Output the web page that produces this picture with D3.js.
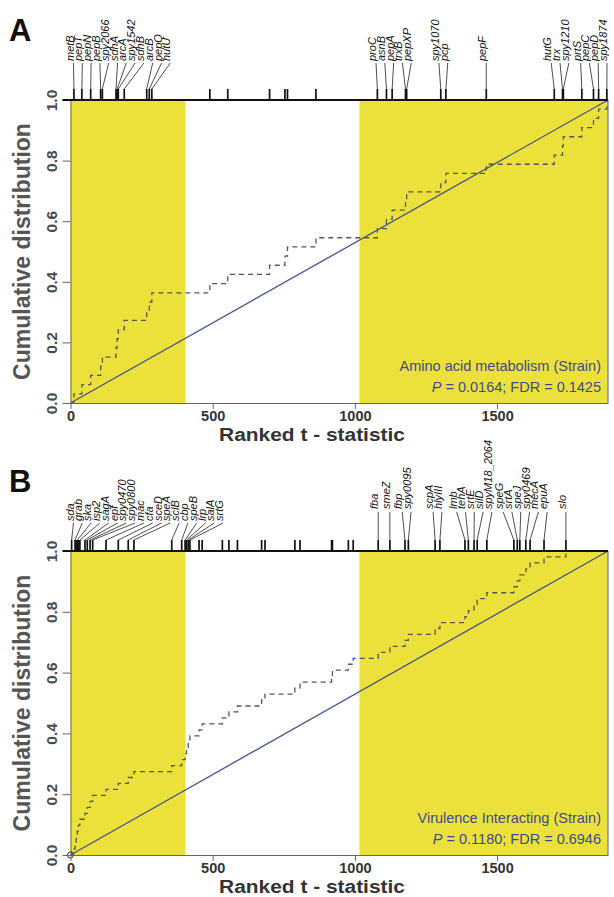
<!DOCTYPE html>
<html>
<head>
<meta charset="utf-8">
<script src="https://cdn.jsdelivr.net/npm/d3@7"></script>
<style>
  body { margin: 0; background: #fff; }
  svg text { font-family: "Liberation Sans", Arial, sans-serif; }
</style>
</head>
<body>
<div id="chart"></div>
<script>
// ---- data ----
var nGenes = 1890;
var xTickVals = [0, 500, 1000, 1500];
var yTickVals = [0, 0.2, 0.4, 0.6, 0.8, 1.0];
var yellowBands = [[0, 404], [1016, 1890]];

// panel A: Amino acid metabolism ("" = unlabelled gene)
var namesA = ["metB", "pepT", "pepN", "pepB", "spy2066", "sdhA", "arcA", "spy1542", "sdhB", "arcB", "pepQ", "hutU",
  "", "", "", "", "", "",
  "proC", "asnB", "pepA", "trxB", "pepXP", "spy1070", "pcp", "pepF", "hutG", "trx", "spy1210", "prtS", "pepC", "pepD", "spy1874"];
var ranksA = [12, 40, 71, 106, 112, 160, 164, 168, 189, 268, 277, 286,
  490, 553, 700, 754, 763, 863,
  1079, 1111, 1131, 1178, 1182, 1302, 1320, 1462, 1701, 1730, 1733, 1798, 1839, 1857, 1886];

// panel B: Virulence interacting
var namesB = ["sda", "grab", "", "ska", "", "isp2", "sagA", "epf", "spy0470", "spy0800", "mac", "cfa", "sceD", "speA",
  "sclB", "cbp", "speB", "lrp", "salA", "srtG",
  "", "", "", "", "", "", "", "", "", "", "", "", "",
  "fba", "smeZ", "fbp", "spy0095", "scpA", "hlyIII", "lmb", "tehA", "srtE", "silD", "spyM18_2064",
  "speG", "srtA", "speJ", "spy0469", "mecA", "epuA", "slo"];
var ranksB = [4, 16, 20, 24, 28, 33, 51, 59, 69, 78, 125, 168, 203, 223,
  356, 391, 403, 408, 414, 420,
  452, 463, 534, 557, 587, 672, 684, 789, 807, 918, 921, 977, 994,
  1082, 1123, 1176, 1188, 1282, 1299, 1387, 1399, 1419, 1430, 1464,
  1559, 1571, 1580, 1601, 1616, 1665, 1742];

var titleA = "Amino acid metabolism (Strain)";
var statsA = ["0.0164", "0.1425"];
var titleB = "Virulence Interacting (Strain)";
var statsB = ["0.1180", "0.6946"];

// ---- drawing ----
var width = 614, height = 897;
var svg = d3.select("#chart").append("svg")
  .attr("width", width).attr("height", height);

var x = d3.scaleLinear().domain([0, nGenes]).range([70.5, 608]);

var yellow = "#ece03b";
var labelGap = 8.8;

// push overlapping labels apart, keeping each crowded group centred on its ticks
function spreadLabels(xs, gap, lo, hi) {
  var groups = xs.map(v => ({ items: [v] }));
  function place(gr) {
    var span = (gr.items.length - 1) * gap;
    gr.start = Math.max(lo, Math.min(hi - span, d3.mean(gr.items) - span / 2));
  }
  groups.forEach(place);
  var merged = true;
  while (merged) {
    merged = false;
    for (var i = 0; i < groups.length - 1; i++) {
      var a = groups[i], b = groups[i + 1];
      if (a.start + a.items.length * gap > b.start + 0.01) {
        a.items = a.items.concat(b.items);
        groups.splice(i + 1, 1);
        place(a);
        merged = true;
        break;
      }
    }
  }
  var out = [];
  groups.forEach(gr => gr.items.forEach((v, k) => out.push(gr.start + k * gap)));
  return out;
}

function drawPanel(p) {
  var y = d3.scaleLinear().domain([0, 1]).range([p.bottom, p.top]);
  var g = svg.append("g");

  /* yellow quantile bands */
  g.selectAll(".band")
    .data(yellowBands)
    .join("rect")
    .attr("class", "band")
    .attr("x", d => x(d[0]))
    .attr("width", d => x(d[1]) - x(d[0]))
    .attr("y", y(1))
    .attr("height", y(0) - y(1))
    .attr("fill", yellow);

  /* expected (uniform) line */
  g.append("line")
    .attr("x1", x(0)).attr("y1", y(0))
    .attr("x2", x(nGenes)).attr("y2", y(1))
    .attr("stroke", "#45528e")
    .attr("stroke-width", 1.3);

  /* observed cumulative distribution */
  var sorted = p.ranks.slice().sort(d3.ascending);
  var n = sorted.length;
  var steps = [[0, 0]].concat(sorted.map((r, i) => [r, (i + 1) / n]), [[nGenes, 1]]);
  var step = d3.line()
    .x(d => x(d[0]))
    .y(d => y(d[1]))
    .curve(d3.curveStepAfter);
  g.append("path")
    .attr("d", step(steps))
    .attr("fill", "none")
    .attr("stroke", "#555")
    .attr("stroke-width", 1.3)
    .attr("stroke-dasharray", "5,4");

  if (p.origin) {
    g.append("circle")
      .attr("cx", x(0)).attr("cy", y(0)).attr("r", 3)
      .attr("fill", "none").attr("stroke", "#333").attr("stroke-width", 1);
  }

  /* axes */
  var yAxis = d3.axisLeft(y).tickValues(yTickVals).tickSize(8).tickSizeOuter(0)
    .tickFormat(d3.format(".1f"));
  var ya = g.append("g").attr("transform", `translate(${x(0)},0)`).call(yAxis);
  ya.selectAll("line, path").attr("stroke", "#666");
  ya.selectAll("text")
    .attr("transform", "rotate(-90)")
    .attr("x", 0).attr("y", -14).attr("dy", 0)
    .attr("text-anchor", "middle")
    .attr("fill", "#4a4a4a")
    .style("font-size", "15.5px").style("font-weight", "bold");

  var xAxis = d3.axisBottom(x).tickValues(xTickVals).tickSize(6).tickSizeOuter(0)
    .tickFormat(d3.format("d"));
  var xa = g.append("g").attr("transform", `translate(0,${y(0)})`).call(xAxis);
  xa.selectAll("line, path").attr("stroke", "#666");
  xa.selectAll("text")
    .attr("y", 7.5)
    .attr("fill", "#333")
    .style("font-size", "14.5px").style("font-weight", "bold");

  // right and top frame
  g.append("line")
    .attr("x1", x(nGenes)).attr("x2", x(nGenes)).attr("y1", y(0)).attr("y2", y(1))
    .attr("stroke", "#666");
  g.append("line")
    .attr("x1", x(0) - 8).attr("x2", x(nGenes)).attr("y1", y(1)).attr("y2", y(1))
    .attr("stroke", "#111").attr("stroke-width", 2);

  //Y-axis label
  g.append("text")
    .attr("transform", `translate(30,${(y(0) + y(1)) / 2}) rotate(-90)`)
    .attr("text-anchor", "middle")
    .attr("fill", "#555")
    .style("font-size", "23px").style("font-weight", "bold")
    .text("Cumulative distribution");
  //x
  g.append("text")
    .attr("transform", `translate(312,${y(0) + 37.5}) scale(1.1,1)`)
    .attr("text-anchor", "middle")
    .attr("fill", "#333")
    .style("font-size", "19px").style("font-weight", "bold")
    .text("Ranked t - statistic");

  /* barcode rug above the frame */
  var rugTop = y(1) - 11;
  g.selectAll(".rug")
    .data(p.ranks)
    .join("line")
    .attr("class", "rug")
    .attr("x1", d => x(d)).attr("x2", d => x(d))
    .attr("y1", rugTop).attr("y2", y(1))
    .attr("stroke", "#111")
    .attr("stroke-width", 1.7);

  /* gene labels with leader lines */
  var genes = p.ranks.map((r, i) => ({ name: p.names[i], rank: r })).filter(d => d.name);
  var groups = [genes.filter(d => d.rank < 710), genes.filter(d => d.rank >= 710)];
  groups.forEach((grp, gi) => {
    var geo = p.leaders[gi];
    grp.sort((a, b) => a.rank - b.rank);
    var pos = spreadLabels(grp.map(d => x(d.rank)), labelGap, x(0) + 3, x(nGenes) - 1);
    grp.forEach((d, i) => { d.lx = pos[i]; });

    g.selectAll(null)
      .data(grp)
      .join("line")
      .attr("x1", d => d.lx).attr("y1", y(1) - geo.line)
      .attr("x2", d => x(d.rank)).attr("y2", rugTop)
      .attr("stroke", "#222")
      .attr("stroke-width", 0.8);

    g.selectAll(null)
      .data(grp)
      .join("text")
      .attr("transform", d => `translate(${d.lx},${y(1) - geo.text}) rotate(-90)`)
      .attr("fill", "#111")
      .style("font-size", "11px")
      .style("font-style", "italic")
      .text(d => d.name);
  });

  /* gene-set annotation */
  var note = g.append("text")
    .attr("text-anchor", "end")
    .attr("fill", "#3d4b8e")
    .style("font-size", "14.5px");
  note.append("tspan")
    .attr("x", 601).attr("y", y(0) - 32)
    .text(p.title);
  var l2 = note.append("tspan").attr("x", 601).attr("y", y(0) - 11);
  l2.append("tspan").style("font-style", "italic").text("P");
  l2.append("tspan").text(" = " + p.stats[0] + "; FDR = " + p.stats[1]);

  /* panel letter */
  svg.append("text")
    .attr("x", 9).attr("y", p.top - 59)
    .style("font-size", "31px").style("font-weight", "bold")
    .attr("fill", "#111")
    .text(p.letter);
}

drawPanel({
  letter: "A", top: 100, bottom: 403,
  names: namesA, ranks: ranksA, title: titleA, stats: statsA,
  leaders: [{ line: 37, text: 39 }, { line: 37, text: 39 }],
  origin: false
});
drawPanel({
  letter: "B", top: 551, bottom: 855,
  names: namesB, ranks: ranksB, title: titleB, stats: statsB,
  leaders: [{ line: 28, text: 30 }, { line: 39, text: 42 }],
  origin: true
});
</script>
</body>
</html>
